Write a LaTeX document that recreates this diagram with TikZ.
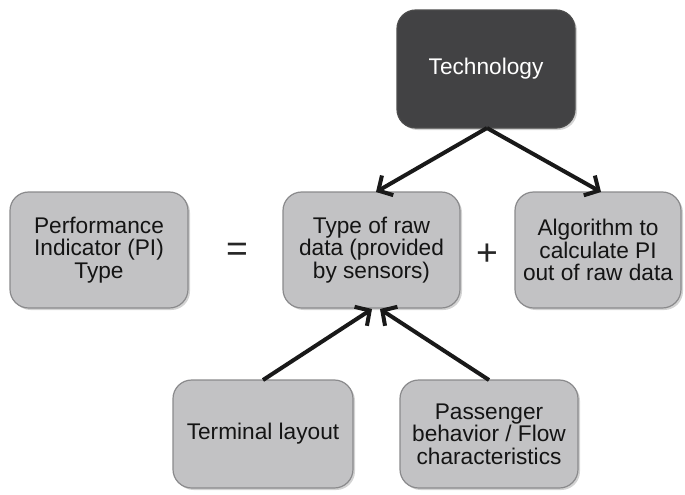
\documentclass[tikz,border=0pt]{standalone}
\usepackage{fontspec}
\setmainfont{Liberation Sans}
\usetikzlibrary{arrows.meta,shadows}
\definecolor{boxgray}{HTML}{C2C2C4}
\definecolor{boxedge}{HTML}{8A8A8C}
\definecolor{darkbox}{HTML}{424244}
\tikzset{
  box/.style={draw=boxedge, line width=0.9pt, fill=boxgray, rounded corners=14pt,
    align=center, text=black!92, font=\fontsize{17}{17}\selectfont,
    drop shadow={shadow xshift=1.5pt, shadow yshift=-1.5pt, opacity=0.35}},
  darkbox/.style={box, fill=darkbox, draw=black!70, text=white},
  conn/.style={line width=3pt, draw=black!90, -{Straight Barb[length=8pt,width=17pt,line width=3pt]}},
  sym/.style={font=\fontsize{28}{28}\selectfont, text=black!85}
}
\begin{document}
\begin{tikzpicture}[x=0.75pt,y=-0.75pt]
\useasboundingbox (0,0) rectangle (685,494);
\node[darkbox, minimum width=133.5pt, minimum height=88.5pt] (tech) at (486,69) {Technology};
\node[box, minimum width=133.5pt, minimum height=87pt] (pi) at (99,250) {Performance\\Indicator (PI)\\Type};
\node[box, minimum width=132.75pt, minimum height=87pt] (raw) at (371.5,250) {Type of raw\\data (provided\\by sensors)};
\node[box, minimum width=124.5pt, minimum height=87pt] (algo) at (598,250) {Algorithm to\\calculate PI\\out of raw data};
\node[box, minimum width=135pt, minimum height=81pt] (term) at (263,434) {Terminal layout};
\node[box, minimum width=133.5pt, minimum height=81pt] (pass) at (489,434) {Passenger\\behavior / Flow\\characteristics};
\node[sym] (eq) at (237,252) {=};
\node[sym] (plus) at (487,255) {+};
\coordinate (tb) at (487,128);
\coordinate (rawtopA) at (376,192);
\coordinate (algotop) at (601,192);
\coordinate (termtop) at (263,380);
\coordinate (passtop) at (489,380);
\coordinate (rawbotA) at (372,309);
\coordinate (rawbotB) at (380,309);
\draw[conn] (tb) -- (rawtopA);
\draw[conn] (tb) -- (algotop);
\draw[conn] (termtop) -- (rawbotA);
\draw[conn] (passtop) -- (rawbotB);
\end{tikzpicture}
\end{document}
